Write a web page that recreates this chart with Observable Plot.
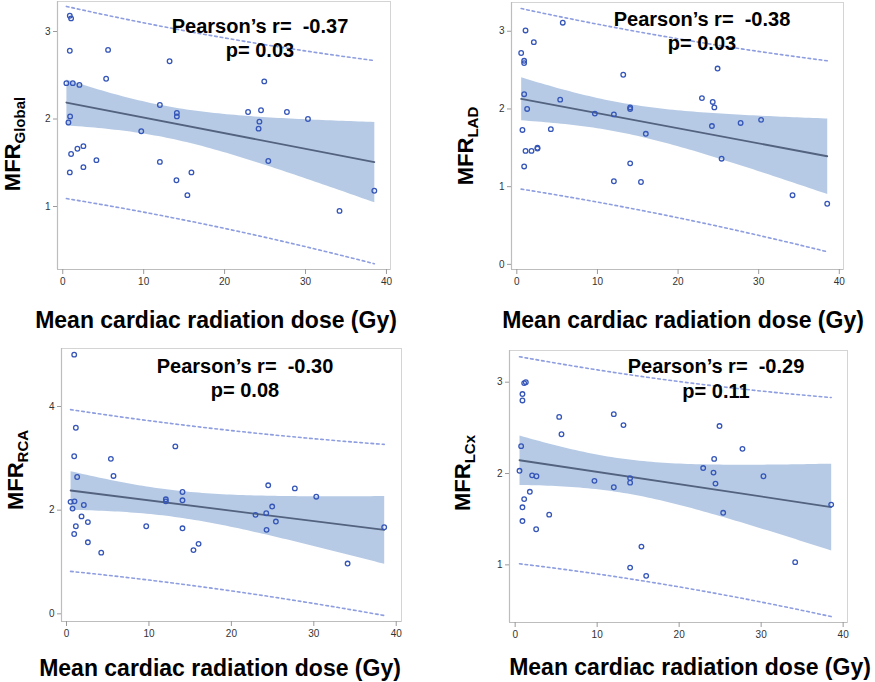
<!DOCTYPE html>
<html>
<head>
<meta charset="utf-8">
<script src="https://cdn.jsdelivr.net/npm/d3@7"></script>
<script src="https://cdn.jsdelivr.net/npm/@observablehq/plot@0.6"></script>
<style>
  html, body { margin: 0; padding: 0; background: #fff; }
  body { width: 875px; height: 682px; position: relative; overflow: hidden; font-family: "Liberation Sans", Arial, sans-serif; }
  .panel { position: absolute; }
  .panel svg { display: block; overflow: visible; }
  #overlay { position: absolute; left: 0; top: 0; pointer-events: none; }
</style>
</head>
<body>
<script>
// ---- Data (dose in Gy, MFR values) ----
const globalDose = [0.87, 1.03, 0.87, 5.6, 13.2, 0.45, 1.24, 2.06, 5.36, 24.9, 12.0, 14.1, 14.1, 22.9, 24.5, 27.7, 30.3, 0.91, 0.70, 24.3, 24.2, 9.7, 1.03, 1.81, 2.55, 2.55, 4.16, 0.87, 12.0, 14.05, 15.9, 15.4, 25.4, 34.2, 38.5];
const globalMFR  = [3.18, 3.15, 2.78, 2.79, 2.66, 2.41, 2.41, 2.39, 2.46, 2.43, 2.16, 2.07, 2.03, 2.08, 2.10, 2.08, 2.00, 2.03, 1.96, 1.97, 1.89, 1.86, 1.60, 1.66, 1.69, 1.45, 1.53, 1.39, 1.51, 1.30, 1.39, 1.13, 1.52, 0.95, 1.18];

const ladDose = [5.7, 1.08, 2.11, 0.54, 0.91, 0.91, 13.2, 24.9, 0.91, 5.38, 22.96, 24.3, 24.5, 14.06, 14.06, 1.28, 9.68, 12.04, 30.3, 27.76, 24.2, 0.70, 4.22, 16.0, 1.08, 1.82, 2.56, 2.56, 0.91, 14.06, 25.4, 12.04, 15.4, 34.2, 38.5];
const ladMFR  = [3.11, 3.01, 2.86, 2.72, 2.62, 2.59, 2.44, 2.52, 2.19, 2.12, 2.14, 2.09, 2.02, 2.02, 2.00, 2.00, 1.94, 1.93, 1.86, 1.82, 1.78, 1.73, 1.74, 1.68, 1.46, 1.46, 1.50, 1.49, 1.26, 1.30, 1.36, 1.07, 1.06, 0.89, 0.78];

const rcaDose = [0.93, 1.13, 0.93, 13.2, 5.38, 5.70, 1.29, 24.47, 27.7, 30.3, 14.07, 14.07, 12.05, 12.05, 0.49, 0.97, 2.10, 0.73, 24.95, 22.93, 24.23, 25.4, 1.82, 2.59, 1.13, 9.67, 14.07, 0.93, 24.27, 38.54, 2.59, 16.02, 15.4, 4.21, 34.1];
const rcaMFR  = [5.00, 3.59, 3.04, 3.23, 2.99, 2.66, 2.64, 2.48, 2.42, 2.26, 2.35, 2.19, 2.21, 2.17, 2.16, 2.17, 2.10, 2.03, 2.07, 1.91, 1.94, 1.78, 1.88, 1.77, 1.69, 1.69, 1.65, 1.54, 1.62, 1.67, 1.38, 1.35, 1.23, 1.18, 0.97];

const lcxDose = [1.10, 1.30, 0.89, 0.89, 12.03, 5.37, 13.21, 24.92, 5.65, 0.73, 27.72, 24.27, 22.93, 24.19, 0.53, 2.07, 2.60, 30.28, 14.02, 14.02, 9.67, 24.43, 12.03, 1.79, 1.10, 0.89, 38.54, 0.89, 4.15, 25.37, 2.56, 15.4, 14.02, 15.98, 34.15];
const lcxMFR  = [2.99, 3.00, 2.87, 2.80, 2.65, 2.62, 2.53, 2.52, 2.43, 2.30, 2.27, 2.16, 2.06, 2.01, 2.03, 1.98, 1.97, 1.97, 1.95, 1.90, 1.92, 1.89, 1.85, 1.80, 1.72, 1.63, 1.66, 1.48, 1.55, 1.57, 1.39, 1.20, 0.97, 0.88, 1.03];

// Tick values
const xTickValues = [0, 10, 20, 30, 40];
const globalYTicks = [1, 2, 3];
const ladYTicks = [0, 1, 2, 3];
const rcaYTicks = [0, 2, 4];
const lcxYTicks = [1, 2, 3];

// Text labels
const subscripts = ["Global", "LAD", "RCA", "LCx"];
const pearsonR = ["-0.37", "-0.38", "-0.30", "-0.29"];
const pValues = ["0.03", "0.03", "0.08", "0.11"];
const xTitle = "Mean cardiac radiation dose (Gy)";

// ---- Styling ----
const BAND = "#b6cae5";
const LINE = "#52627f";
const DOT = "#3556b8";
const DASH = "#8d9de0";
const T975 = 2.0345; // t quantile, df = n - 2 = 33

function predictionLimits(xs, ys) {
  const n = xs.length;
  const xbar = d3.mean(xs), ybar = d3.mean(ys);
  let sxx = 0, sxy = 0;
  for (let i = 0; i < n; i++) { sxx += (xs[i] - xbar) ** 2; sxy += (xs[i] - xbar) * (ys[i] - ybar); }
  const b = sxy / sxx, a = ybar - b * xbar;
  let sse = 0;
  for (let i = 0; i < n; i++) sse += (ys[i] - a - b * xs[i]) ** 2;
  const s = Math.sqrt(sse / (n - 2));
  const [x0, x1] = d3.extent(xs);
  const grid = d3.range(0, 41).map(i => x0 + (x1 - x0) * i / 40);
  const rows = [];
  for (const x of grid) {
    const yhat = a + b * x;
    const h = T975 * s * Math.sqrt(1 + 1 / n + (x - xbar) ** 2 / sxx);
    rows.push({x, lo: yhat - h, hi: yhat + h});
  }
  return rows;
}

const ML = 40, MR = 4, MT = 2, MB = 26;
const fmt = d3.format("d");

function makePanel(cfg) {
  const data = cfg.dose.map((d, i) => ({dose: d, mfr: cfg.mfr[i]}));
  const pl = predictionLimits(cfg.dose, cfg.mfr);
  const w = cfg.right - cfg.left + ML + MR;
  const h = cfg.bottom - cfg.top + MT + MB;
  const chart = Plot.plot({
    width: w,
    height: h,
    marginLeft: ML, marginRight: MR, marginTop: MT, marginBottom: MB,
    style: {fontFamily: "'Liberation Sans', Arial, sans-serif", fontSize: "10px", background: "transparent", overflow: "visible"},
    x: {domain: cfg.xDomain, label: null},
    y: {domain: cfg.yDomain, label: null},
    marks: [
      Plot.frame({stroke: "#d4d4d4"}),
      Plot.ruleX([cfg.xDomain[0]], {stroke: "#bdbdbd", strokeWidth: 1.2}),
      Plot.ruleY([cfg.yDomain[0]], {stroke: "#bdbdbd", strokeWidth: 1.2}),
      Plot.axisX({ticks: xTickValues, tickFormat: fmt, tickSize: 5, tickPadding: 3, stroke: "#9a9a9a", fill: "#333", label: null}),
      Plot.axisY({ticks: cfg.yTicks, tickFormat: fmt, tickSize: 4, tickPadding: 3, stroke: "#9a9a9a", fill: "#333", label: null}),
      Plot.linearRegressionY(data, {x: "dose", y: "mfr", ci: 0.95, fill: BAND, fillOpacity: 1, stroke: LINE, strokeWidth: 1.8}),
      Plot.line(pl, {x: "x", y: "hi", stroke: DASH, strokeWidth: 1.6, strokeDasharray: "2.6,3"}),
      Plot.line(pl, {x: "x", y: "lo", stroke: DASH, strokeWidth: 1.6, strokeDasharray: "2.6,3"}),
      Plot.dot(data, {x: "dose", y: "mfr", r: 2.3, stroke: DOT, strokeWidth: 1.3, fill: "none"})
    ]
  });
  const div = document.createElement("div");
  div.className = "panel";
  div.style.left = (cfg.left - ML) + "px";
  div.style.top = (cfg.top - MT) + "px";
  div.appendChild(chart);
  document.body.appendChild(div);
}

const panels = [
  {dose: globalDose, mfr: globalMFR, yTicks: globalYTicks, left: 57, right: 390, top: 1, bottom: 269, xDomain: [-0.65, 40.5], yDomain: [0.28, 3.343],
   sub: 0, ylab: [20, 144], pr: [260, 33], pv: [260, 57], xt: [216, 328]},
  {dose: ladDose, mfr: ladMFR, yTicks: ladYTicks, left: 511, right: 843, top: 2, bottom: 269, xDomain: [-0.66, 40.52], yDomain: [-0.066, 3.37],
   sub: 1, ylab: [473, 146], pr: [702, 26], pv: [702, 50], xt: [683, 328]},
  {dose: rcaDose, mfr: rcaMFR, yTicks: rcaYTicks, left: 61, right: 401, top: 348, bottom: 621, xDomain: [-0.61, 40.64], yDomain: [-0.148, 5.119],
   sub: 2, ylab: [23, 470], pr: [245, 373], pv: [245, 397], xt: [220, 676]},
  {dose: lcxDose, mfr: lcxMFR, yTicks: lcxYTicks, left: 509, right: 847, top: 350, bottom: 622, xDomain: [-0.69, 40.53], yDomain: [0.369, 3.347],
   sub: 3, ylab: [470, 473], pr: [716, 373], pv: [716, 398], xt: [690, 675]}
];

panels.forEach(makePanel);

// ---- Text overlay ----
const svg = d3.select("body").append("svg")
  .attr("id", "overlay").attr("width", 875).attr("height", 682)
  .style("font-family", "'Liberation Sans', Arial, sans-serif");

panels.forEach(p => {
  const i = p.sub;
  svg.append("text").attr("x", p.pr[0]).attr("y", p.pr[1])
    .attr("text-anchor", "middle").attr("font-size", 20).attr("font-weight", "bold").attr("fill", "#000")
    .style("white-space", "pre")
    .text("Pearson\u2019s r=  " + pearsonR[i]);
  svg.append("text").attr("x", p.pv[0]).attr("y", p.pv[1])
    .attr("text-anchor", "middle").attr("font-size", 20).attr("font-weight", "bold").attr("fill", "#000")
    .text("p= " + pValues[i]);
  svg.append("text").attr("x", p.xt[0]).attr("y", p.xt[1])
    .attr("text-anchor", "middle").attr("font-size", 23).attr("font-weight", "bold").attr("fill", "#000")
    .text(xTitle);
  const yl = svg.append("text")
    .attr("transform", `translate(${p.ylab[0]},${p.ylab[1]}) rotate(-90)`)
    .attr("text-anchor", "middle").attr("font-weight", "bold").attr("fill", "#000");
  yl.append("tspan").attr("font-size", 22).text("MFR");
  yl.append("tspan").attr("font-size", 15).attr("dy", 5).text(subscripts[i]);
});
</script>
</body>
</html>
